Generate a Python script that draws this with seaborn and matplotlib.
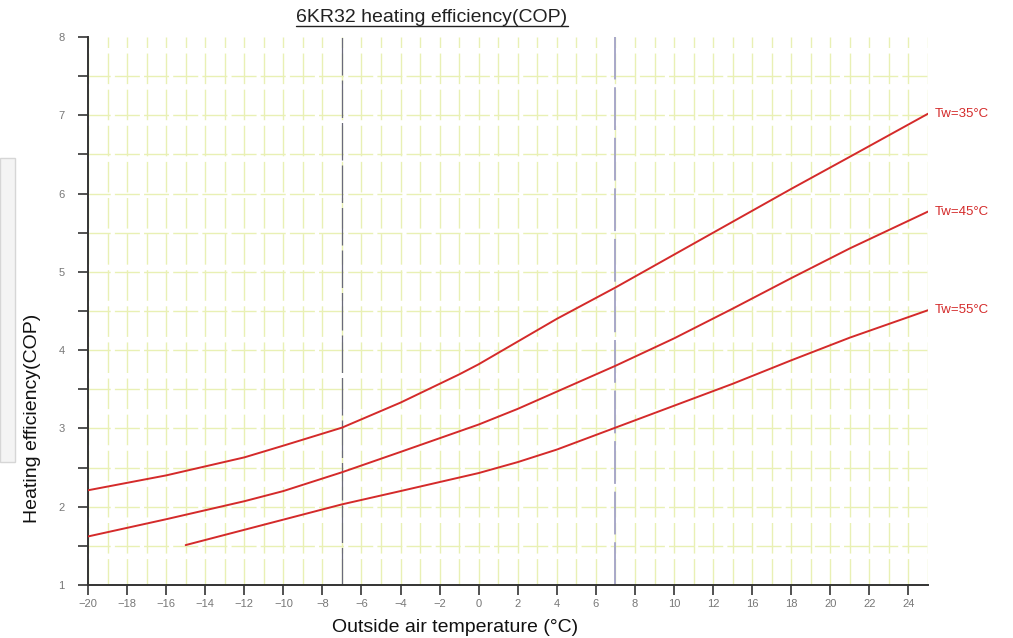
import matplotlib
matplotlib.use("Agg")
import matplotlib.pyplot as plt
import seaborn as sns
import pandas as pd
from matplotlib.patches import Rectangle
from matplotlib.lines import Line2D

# ---- data ----
x_tw35 = [-20, -16, -12, -10, -7, -4, -1, 0, 2, 4, 7, 10, 13, 16, 19, 23]
y_tw35 = [2.21, 2.40, 2.63, 2.78, 3.01, 3.33, 3.69, 3.82, 4.11, 4.40, 4.80, 5.22, 5.64, 6.06, 6.47, 7.02]

x_tw45 = [-20, -16, -12, -10, -7, -4, 0, 2, 4, 7, 10, 13, 16, 19, 23]
y_tw45 = [1.62, 1.84, 2.07, 2.20, 2.44, 2.70, 3.05, 3.25, 3.47, 3.80, 4.15, 4.53, 4.92, 5.30, 5.77]

x_tw55 = [-15, -13, -11, -9, -7, -4, 0, 2, 4, 7, 10, 13, 16, 19, 23]
y_tw55 = [1.51, 1.64, 1.77, 1.90, 2.03, 2.20, 2.43, 2.57, 2.73, 3.01, 3.29, 3.57, 3.87, 4.16, 4.51]

series_names = ["Tw=35°C", "Tw=45°C", "Tw=55°C"]

x_tick_pos = [-20, -18, -16, -14, -12, -10, -8, -6, -4, -2, 0, 2, 4, 6, 8, 10, 12, 14, 16, 18, 20, 22]
x_tick_labels = ["\u221220", "\u221218", "\u221216", "\u221214", "\u221212", "\u221210", "\u22128",
                 "\u22126", "\u22124", "\u22122", "0", "2", "4", "6", "8", "10", "12", "16",
                 "18", "20", "22", "24"]
y_ticks = [1, 2, 3, 4, 5, 6, 7, 8]
ref_lines = [-7, 7]

title = "6KR32 heating efficiency(COP)"
xlabel = "Outside air temperature (°C)"
ylabel = "Heating efficiency(COP)"

df = pd.concat([
    pd.DataFrame({"t": x_tw35, "cop": y_tw35, "series": series_names[0]}),
    pd.DataFrame({"t": x_tw45, "cop": y_tw45, "series": series_names[1]}),
    pd.DataFrame({"t": x_tw55, "cop": y_tw55, "series": series_names[2]}),
])

sns.set_theme(style="white")
plt.rcParams["font.family"] = ["Liberation Sans", "DejaVu Sans"]

fig = plt.figure(figsize=(10.13, 6.38), dpi=100)
ax = fig.add_axes([88 / 1013, 53 / 638, 840 / 1013, 548 / 638])

# grid
grid_color = "#e9f0b4"
for xv in range(-20, 24):
    ax.axvline(xv, color=grid_color, lw=1.0, ls=(3, (22, 4)), zorder=0)
for k in range(2, 16):
    ax.axhline(k * 0.5, color=grid_color, lw=1.0, ls=(2, (18, 3)), zorder=0)

# reference lines
ax.axvline(ref_lines[0], color="#6a6a7a", lw=0.9, ls=(0, (30, 4)), zorder=1)
ax.axvline(ref_lines[1], color="#a8a8c8", lw=1.4, ls=(0, (22, 4)), zorder=1)

sns.lineplot(data=df, x="t", y="cop", hue="series", sort=False,
             palette=["#d42a2a"] * 3, lw=1.4, legend=False, ax=ax, zorder=3)

ax.set_xlim(-20, 23)
ax.set_ylim(1, 8)
ax.set_xticks(x_tick_pos)
ax.set_xticklabels(x_tick_labels)
ax.set_yticks(y_ticks)
ax.set_yticks([v + 0.5 for v in y_ticks[:-1]], minor=True)
ax.tick_params(axis="both", which="major", direction="out", length=7, width=1.2,
               color="#333333", labelsize=8, labelcolor="#777777",
               bottom=True, left=True)
ax.tick_params(axis="y", which="minor", direction="out", length=7, width=1.2,
               color="#333333", left=True)
ax.tick_params(axis="y", pad=10)
ax.tick_params(axis="x", pad=3)
for s in ["top", "right"]:
    ax.spines[s].set_visible(False)
for s in ["left", "bottom"]:
    ax.spines[s].set_color("#333333")
    ax.spines[s].set_linewidth(1.4)
ax.set_xlabel("")
ax.set_ylabel("")

# end labels
ends = [(x_tw35[-1], y_tw35[-1]), (x_tw45[-1], y_tw45[-1]), (x_tw55[-1], y_tw55[-1])]
for name, (ex, ey) in zip(series_names, ends):
    ax.annotate(name, (ex, ey), xytext=(5, 0), textcoords="offset points",
                color="#d42a2a", fontsize=9.5, va="center", ha="left",
                annotation_clip=False)

# titles
t = fig.text(432 / 1013, 1 - 18 / 638, title, ha="center", va="center",
             fontsize=14, color="#222222")
fig.canvas.draw()
bb = t.get_window_extent().transformed(fig.transFigure.inverted())
fig.add_artist(Line2D([bb.x0, bb.x1], [bb.y0 + 0.001, bb.y0 + 0.001],
                      transform=fig.transFigure, color="#222222", lw=1.0))
fig.text(455 / 1013, 1 - 627 / 638, xlabel, ha="center", va="center",
         fontsize=14, color="#111111")
fig.text(33 / 1013, 1 - 418 / 638, ylabel, ha="center", va="center",
         rotation=90, fontsize=14, color="#111111")

# light gray box at left edge
fig.add_artist(Rectangle((0, 1 - 462 / 638), 15 / 1013, 304 / 638,
                         transform=fig.transFigure, facecolor="#f4f4f4",
                         edgecolor="#d6d6d6", lw=1.0, zorder=0))

fig.savefig("out.png", dpi=100)
